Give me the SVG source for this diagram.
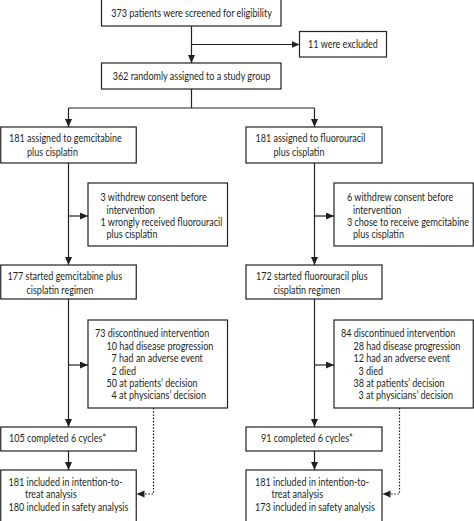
<svg xmlns="http://www.w3.org/2000/svg" width="474" height="521" viewBox="0 0 474 521">
<defs>
<style>
.box{fill:#fff;stroke:#231f20;stroke-width:1.2}
.ln{fill:none;stroke:#231f20;stroke-width:1.2}
.dot{fill:none;stroke:#231f20;stroke-width:1.2;stroke-dasharray:1.6 1.6}
text{font-family:Lato,"Liberation Sans",sans-serif;font-size:11px;fill:#231f20}
.m{text-anchor:middle}
</style>
<marker id="ah" markerUnits="userSpaceOnUse" markerWidth="9" markerHeight="8" refX="8" refY="3.5" orient="auto">
<path d="M0,0 L8,3.5 L0,7 Z" fill="#231f20"/>
</marker>
</defs>
<rect width="474" height="521" fill="#fff"/>
<g id="connectors">
<path class="ln" d="M191.5,26 V63" marker-end="url(#ah)"/>
<path class="ln" d="M191.5,44.5 H299.5" marker-end="url(#ah)"/>
<path class="ln" d="M191.5,89 V108 M68.5,108 H314.5"/>
<path class="ln" d="M68.5,108 V127" marker-end="url(#ah)"/>
<path class="ln" d="M314.5,108 V127" marker-end="url(#ah)"/>
<path class="ln" d="M68.5,163 V265" marker-end="url(#ah)"/>
<path class="ln" d="M68.5,216 H88" marker-end="url(#ah)"/>
<path class="ln" d="M68.5,299 V427" marker-end="url(#ah)"/>
<path class="ln" d="M68.5,365 H88" marker-end="url(#ah)"/>
<path class="ln" d="M68.5,451 V470" marker-end="url(#ah)"/>
<path class="dot" d="M153.5,408 V494 H136.5" marker-end="url(#ah)"/>
<path class="ln" d="M314.5,163 V265" marker-end="url(#ah)"/>
<path class="ln" d="M314.5,216 H334" marker-end="url(#ah)"/>
<path class="ln" d="M314.5,299 V427" marker-end="url(#ah)"/>
<path class="ln" d="M314.5,365 H334" marker-end="url(#ah)"/>
<path class="ln" d="M314.5,451 V470" marker-end="url(#ah)"/>
<path class="dot" d="M399.5,408 V494 H382.5" marker-end="url(#ah)"/>
</g>
<g id="screened">
<rect class="box" x="101.5" y="-2" width="179.5" height="28"/>
<text class="m" transform="translate(191.5,0) scale(.82,1)" y="17">373 patients were screened for eligibility</text>
</g>
<g id="excluded">
<rect class="box" x="299.5" y="31.5" width="87" height="25.5"/>
<text class="m" transform="translate(343,0) scale(.82,1)" y="48">11 were excluded</text>
</g>
<g id="randomised">
<rect class="box" x="101.5" y="63" width="179.5" height="26"/>
<text class="m" transform="translate(191.5,0) scale(.82,1)" y="80">362 randomly assigned to a study group</text>
</g>
<g id="assigned-gem">
<rect class="box" x="0.75" y="127" width="135.5" height="36"/>
<text transform="translate(9,0) scale(.82,1)" y="142.5">181 assigned to gemcitabine</text>
<text transform="translate(27,0) scale(.82,1)" y="156">plus cisplatin</text>
</g>
<g id="assigned-fu">
<rect class="box" x="246" y="127" width="136" height="36"/>
<text transform="translate(255.5,0) scale(.82,1)" y="142.5">181 assigned to fluorouracil</text>
<text transform="translate(273.5,0) scale(.82,1)" y="156">plus cisplatin</text>
</g>
<g id="withdrew-gem">
<rect class="box" x="88" y="183" width="139.5" height="63"/>
<text transform="translate(100.5,0) scale(.82,1)" y="201.5">3 withdrew consent before</text>
<text transform="translate(106.5,0) scale(.82,1)" y="213.8">intervention</text>
<text transform="translate(100.5,0) scale(.82,1)" y="226.1">1 wrongly received fluorouracil</text>
<text transform="translate(106.5,0) scale(.82,1)" y="238.4">plus cisplatin</text>
</g>
<g id="withdrew-fu">
<rect class="box" x="334" y="183" width="139.25" height="63"/>
<text transform="translate(347,0) scale(.82,1)" y="201.5">6 withdrew consent before</text>
<text transform="translate(353,0) scale(.82,1)" y="213.8">intervention</text>
<text transform="translate(347,0) scale(.82,1)" y="226.1">3 chose to receive gemcitabine</text>
<text transform="translate(353,0) scale(.82,1)" y="238.4">plus cisplatin</text>
</g>
<g id="started-gem">
<rect class="box" x="0.75" y="265" width="135.5" height="34"/>
<text transform="translate(7.5,0) scale(.82,1)" y="280.5">177 started gemcitabine plus</text>
<text transform="translate(26.5,0) scale(.82,1)" y="294">cisplatin regimen</text>
</g>
<g id="started-fu">
<rect class="box" x="246" y="265" width="136" height="34"/>
<text transform="translate(256,0) scale(.82,1)" y="280.5">172 started fluorouracil plus</text>
<text transform="translate(273.5,0) scale(.82,1)" y="294">cisplatin regimen</text>
</g>
<g id="discontinued-gem">
<rect class="box" x="88" y="320" width="139.5" height="88"/>
<text transform="translate(95,0) scale(.82,1)" y="337.5">73 discontinued intervention</text>
<text transform="translate(106.5,0) scale(.82,1)" y="349.9">10 had disease progression</text>
<text transform="translate(111.5,0) scale(.82,1)" y="362.3">7 had an adverse event</text>
<text transform="translate(111.5,0) scale(.82,1)" y="374.7">2 died</text>
<text transform="translate(106.5,0) scale(.82,1)" y="387.1">50 at patients’ decision</text>
<text transform="translate(111.5,0) scale(.82,1)" y="399.5">4 at physicians’ decision</text>
</g>
<g id="discontinued-fu">
<rect class="box" x="334" y="320" width="139.25" height="88"/>
<text transform="translate(341,0) scale(.82,1)" y="337.5">84 discontinued intervention</text>
<text transform="translate(353.5,0) scale(.82,1)" y="349.9">28 had disease progression</text>
<text transform="translate(353.5,0) scale(.82,1)" y="362.3">12 had an adverse event</text>
<text transform="translate(358.5,0) scale(.82,1)" y="374.7">3 died</text>
<text transform="translate(353.5,0) scale(.82,1)" y="387.1">38 at patients’ decision</text>
<text transform="translate(358.5,0) scale(.82,1)" y="399.5">3 at physicians’ decision</text>
</g>
<g id="completed-gem">
<rect class="box" x="0.75" y="427" width="135.5" height="24"/>
<text transform="translate(9,0) scale(.82,1)" y="442.5">105 completed 6 cycles*</text>
</g>
<g id="completed-fu">
<rect class="box" x="246" y="427" width="136" height="24"/>
<text transform="translate(261,0) scale(.82,1)" y="442.5">91 completed 6 cycles*</text>
</g>
<g id="analysis-gem">
<rect class="box" x="0.75" y="470" width="135.5" height="56"/>
<text transform="translate(8.5,0) scale(.82,1)" y="485.8">181 included in intention-to-</text>
<text transform="translate(25,0) scale(.82,1)" y="498.5">treat analysis</text>
<text transform="translate(8.5,0) scale(.82,1)" y="511.2">180 included in safety analysis</text>
</g>
<g id="analysis-fu">
<rect class="box" x="246" y="470" width="136" height="56"/>
<text transform="translate(255,0) scale(.82,1)" y="485.8">181 included in intention-to-</text>
<text transform="translate(271.5,0) scale(.82,1)" y="498.5">treat analysis</text>
<text transform="translate(255,0) scale(.82,1)" y="511.2">173 included in safety analysis</text>
</g>
</svg>
